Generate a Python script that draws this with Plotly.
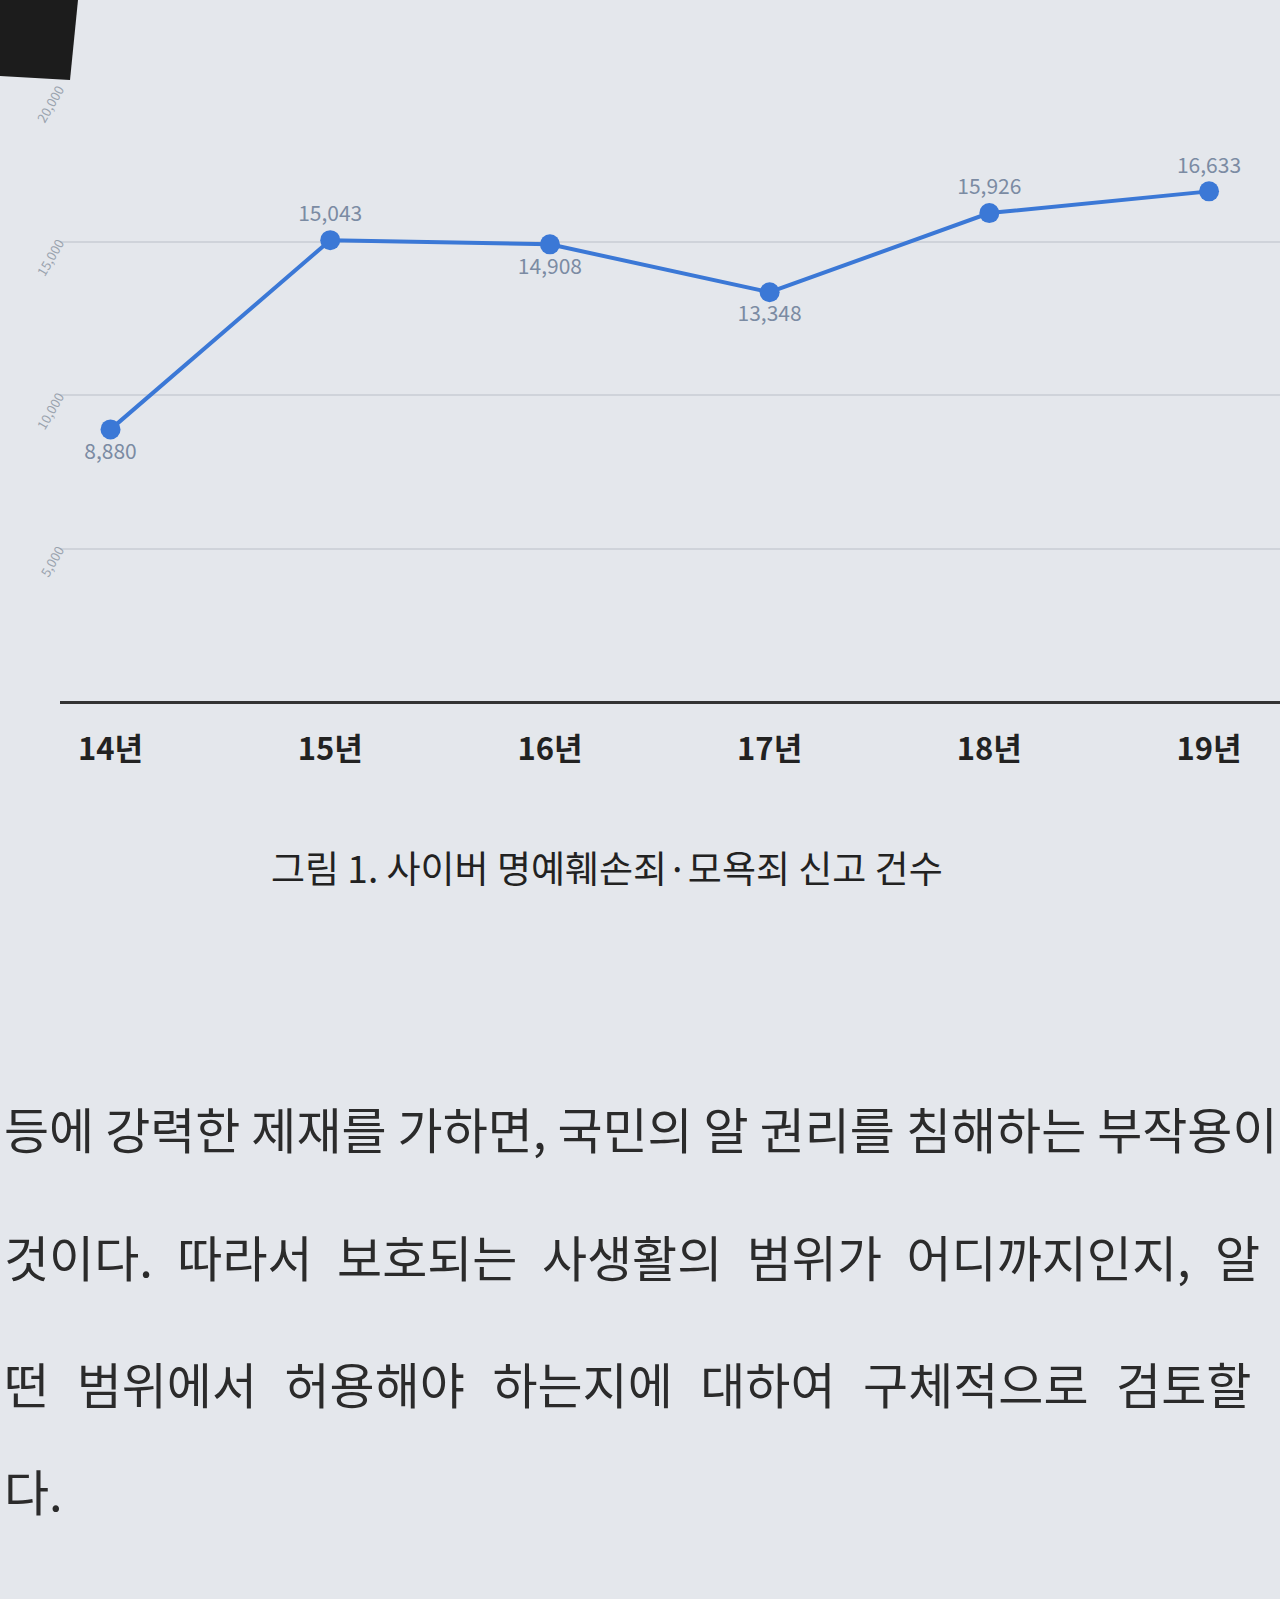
import plotly.graph_objects as go

years = ["14년", "15년", "16년", "17년", "18년", "19년"]
reports = [8880, 15043, 14908, 13348, 15926, 16633]
value_labels = ["8,880", "15,043", "14,908", "13,348", "15,926", "16,633"]
label_side = ["bottom center", "top center", "bottom center", "bottom center", "top center", "top center"]
y_ticks = [0, 5000, 10000, 15000, 20000]
y_tick_text = ["", "5,000", "10,000", "15,000", "20,000"]

caption = "그림 1. 사이버 명예훼손죄·모욕죄 신고 건수"
body_lines = [
    "등에 강력한 제재를 가하면, 국민의 알 권리를 침해하는 부작용이",
    "것이다. 따라서 보호되는 사생활의 범위가 어디까지인지, 알",
    "떤 범위에서 허용해야 하는지에 대하여 구체적으로 검토할",
    "다.",
]
# word gaps widened a little so each line runs across the page like justified text
body_gaps = [" ", "\u2002", "\u2002\u200a", " "]

PAPER = "#e4e7ec"
BLUE = "#3b78d6"
KR = "Noto Sans CJK KR, Noto Sans, sans-serif"

fig = go.Figure()
fig.add_trace(
    go.Scatter(
        x=years,
        y=reports,
        mode="lines+markers+text",
        line=dict(color=BLUE, width=4),
        marker=dict(color=BLUE, size=20),
        text=value_labels,
        textposition=label_side,
        textfont=dict(family=KR, size=21, color="#7b8ba3"),
        hoverinfo="skip",
        showlegend=False,
    )
)

# plot area spans pixels 88..702 vertically, 60..1280 horizontally
def py(pixel):
    return (702 - pixel) / 614

def px(pixel):
    return (pixel - 60) / 1220

annotations = [
    dict(text=caption, x=px(607), y=py(867), xref="paper", yref="paper",
         xanchor="center", yanchor="middle", showarrow=False,
         font=dict(family=KR, size=37, color="#222222")),
]
body_y = [1127, 1255, 1382, 1490]
for line, gap, yy in zip(body_lines, body_gaps, body_y):
    annotations.append(
        dict(text=line.replace(" ", gap), x=px(2), y=py(yy), xref="paper", yref="paper",
             xanchor="left", yanchor="middle", showarrow=False,
             font=dict(family=KR, size=49, color="#2b2b2b"))
    )

fig.update_layout(
    width=1280,
    height=1599,
    margin=dict(l=60, r=0, t=88, b=897),
    paper_bgcolor=PAPER,
    plot_bgcolor=PAPER,
    annotations=annotations,
    shapes=[
        dict(type="path", xref="paper", yref="paper",
             path=f"M {px(0)},{py(0)} L {px(78)},{py(0)} L {px(70)},{py(80)} L {px(0)},{py(76)} Z",
             fillcolor="#1c1c1c", line=dict(width=0), layer="above"),
    ],
    xaxis=dict(
        type="category",
        range=[-0.23, 5.323],
        showgrid=False,
        zeroline=False,
        showline=False,
        ticks="",
        ticklabelstandoff=26,
        tickfont=dict(family=KR, size=31, color="#222222", weight="bold"),
    ),
    yaxis=dict(
        range=[0, 20000],
        tickvals=y_ticks,
        ticktext=y_tick_text,
        showgrid=True,
        gridcolor="#cfd3da",
        gridwidth=1.5,
        zeroline=True,
        zerolinecolor="#333333",
        zerolinewidth=2.5,
        showline=False,
        tickangle=-60,
        tickfont=dict(family=KR, size=13, color="#9aa3ae"),
    ),
)

fig.write_html(
    "out.html",
    config={"displayModeBar": False},
    post_script="document.body.style.margin='0';document.body.style.background='#e4e7ec';",
)
